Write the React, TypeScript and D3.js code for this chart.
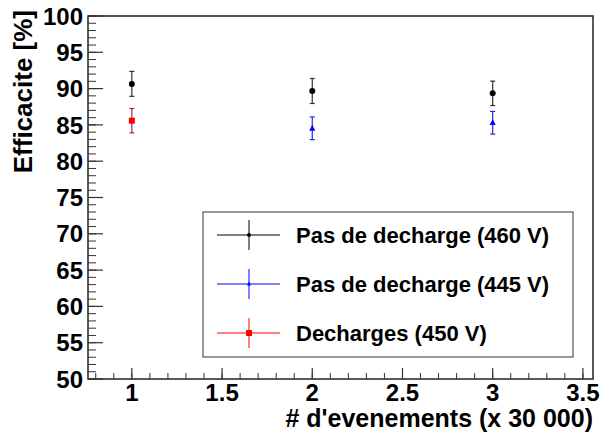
import * as d3 from "d3";

const WIDTH = 602;
const HEIGHT = 436;

const FRAME = { left: 88, right: 593, top: 16, bottom: 379 };

const X_DOMAIN: [number, number] = [0.757, 3.556];
const Y_DOMAIN: [number, number] = [50, 100];
const X_TICKS = [1, 1.5, 2, 2.5, 3, 3.5];
const Y_TICKS = [50, 55, 60, 65, 70, 75, 80, 85, 90, 95, 100];

const X_TITLE = "# d'evenements (x 30 000)";
const Y_TITLE = "Efficacite [%]";

// series
const noDischarge460X = [1, 2, 3];
const noDischarge460Y = [90.65, 89.67, 89.35];
const noDischarge460Err = [1.72, 1.72, 1.68];

const noDischarge445X = [2, 3];
const noDischarge445Y = [84.53, 85.3];
const noDischarge445Err = [1.56, 1.56];

const dischargeX = [1];
const dischargeY = [85.58];
const dischargeErr = [1.68];

type Marker = "circle" | "triangle" | "square";

type Series = {
  label: string;
  xs: number[];
  ys: number[];
  errs: number[];
  color: string;
  barColor: string;
  marker: Marker;
};

const SERIES: Series[] = [
  {
    label: "Pas de decharge (460 V)",
    xs: noDischarge460X,
    ys: noDischarge460Y,
    errs: noDischarge460Err,
    color: "#000000",
    barColor: "#333333",
    marker: "circle",
  },
  {
    label: "Pas de decharge (445 V)",
    xs: noDischarge445X,
    ys: noDischarge445Y,
    errs: noDischarge445Err,
    color: "#0000ff",
    barColor: "#2a2ad0",
    marker: "triangle",
  },
  {
    label: "Decharges (450 V)",
    xs: dischargeX,
    ys: dischargeY,
    errs: dischargeErr,
    color: "#ff0000",
    barColor: "#9a2a55",
    marker: "square",
  },
];

const FONT = "'Liberation Sans', Arial, Helvetica, sans-serif";

function MarkerShape({ kind, x, y, color, size }: { kind: Marker; x: number; y: number; color: string; size: number }) {
  if (kind === "circle") return <circle cx={x} cy={y} r={size / 2} fill={color} />;
  if (kind === "square")
    return <rect x={x - size / 2} y={y - size / 2} width={size} height={size} fill={color} />;
  const h = size;
  return (
    <path
      d={`M${x},${y - h * 0.6} L${x + h / 2},${y + h * 0.4} L${x - h / 2},${y + h * 0.4} Z`}
      fill={color}
    />
  );
}

export default function App() {
  const x = d3.scaleLinear().domain(X_DOMAIN).range([FRAME.left, FRAME.right]);
  const y = d3.scaleLinear().domain(Y_DOMAIN).range([FRAME.bottom, FRAME.top]);

  const xMinor = d3.range(8, 36).map(v => v / 10).filter(v => v >= X_DOMAIN[0] && v <= X_DOMAIN[1]);
  const yMinor = d3.range(50, 101);

  const legend = { left: 203, top: 212, right: 573, bottom: 357 };
  const rowY = [235, 284, 333];

  return (
    <svg
      width={WIDTH}
      height={HEIGHT}
      style={{ position: "absolute", left: 0, top: 0, background: "#fff" }}
      fontFamily={FONT}
    >
      <rect width={WIDTH} height={HEIGHT} fill="#fff" />

      {/* frame */}
      <rect
        x={FRAME.left}
        y={FRAME.top}
        width={FRAME.right - FRAME.left}
        height={FRAME.bottom - FRAME.top}
        fill="none"
        stroke="#222"
        strokeWidth={1.5}
      />

      {/* y axis ticks */}
      {yMinor.map(v => (
        <line key={"ym" + v} x1={FRAME.left} x2={FRAME.left + 8} y1={y(v)} y2={y(v)} stroke="#333" strokeWidth={1} />
      ))}
      {Y_TICKS.map(v => (
        <g key={"y" + v}>
          <line x1={FRAME.left} x2={FRAME.left + 15} y1={y(v)} y2={y(v)} stroke="#333" strokeWidth={1.2} />
          <text x={83} y={y(v)} dy="0.36em" textAnchor="end" fontSize={24} fontWeight="bold">
            {v}
          </text>
        </g>
      ))}

      {/* x axis ticks */}
      {xMinor.map(v => (
        <line key={"xm" + v} x1={x(v)} x2={x(v)} y1={FRAME.bottom} y2={FRAME.bottom - 6} stroke="#333" strokeWidth={1} />
      ))}
      {X_TICKS.map(v => (
        <g key={"x" + v}>
          <line x1={x(v)} x2={x(v)} y1={FRAME.bottom} y2={FRAME.bottom - 11} stroke="#333" strokeWidth={1.2} />
          <text x={x(v)} y={401} textAnchor="middle" fontSize={24} fontWeight="bold">
            {v}
          </text>
        </g>
      ))}

      {/* axis titles */}
      <text x={FRAME.right} y={427} textAnchor="end" fontSize={25} fontWeight="bold">
        {X_TITLE}
      </text>
      <text
        transform={`translate(32, ${FRAME.top - 6}) rotate(-90)`}
        textAnchor="end"
        fontSize={26}
        fontWeight="bold"
      >
        {Y_TITLE}
      </text>

      {/* data */}
      {SERIES.map(s => (
        <g key={s.label}>
          {s.xs.map((xv, i) => {
            const cx = x(xv);
            const cy = y(s.ys[i]);
            const top = y(s.ys[i] + s.errs[i]);
            const bot = y(s.ys[i] - s.errs[i]);
            return (
              <g key={i}>
                <line x1={cx} x2={cx} y1={top} y2={bot} stroke={s.barColor} strokeWidth={1.2} />
                <line x1={cx - 2.5} x2={cx + 2.5} y1={top} y2={top} stroke={s.barColor} strokeWidth={1.2} />
                <line x1={cx - 2.5} x2={cx + 2.5} y1={bot} y2={bot} stroke={s.barColor} strokeWidth={1.2} />
                <MarkerShape kind={s.marker} x={cx} y={cy} color={s.color} size={6} />
              </g>
            );
          })}
        </g>
      ))}

      {/* legend */}
      <rect
        x={legend.left}
        y={legend.top}
        width={legend.right - legend.left}
        height={legend.bottom - legend.top}
        fill="#fff"
        stroke="#333"
        strokeWidth={1}
      />
      {SERIES.map((s, i) => (
        <g key={"leg" + i}>
          <line x1={217} x2={280} y1={rowY[i]} y2={rowY[i]} stroke={s.color} strokeWidth={1} />
          <line x1={249} x2={249} y1={rowY[i] - 15} y2={rowY[i] + 15} stroke={s.color} strokeWidth={1} />
          <MarkerShape
            kind={s.marker}
            x={249}
            y={rowY[i]}
            color={s.color}
            size={s.marker === "square" ? 6 : 4}
          />
          <text x={296} y={rowY[i]} dy="0.36em" fontSize={22} fontWeight="bold">
            {s.label}
          </text>
        </g>
      ))}
    </svg>
  );
}
